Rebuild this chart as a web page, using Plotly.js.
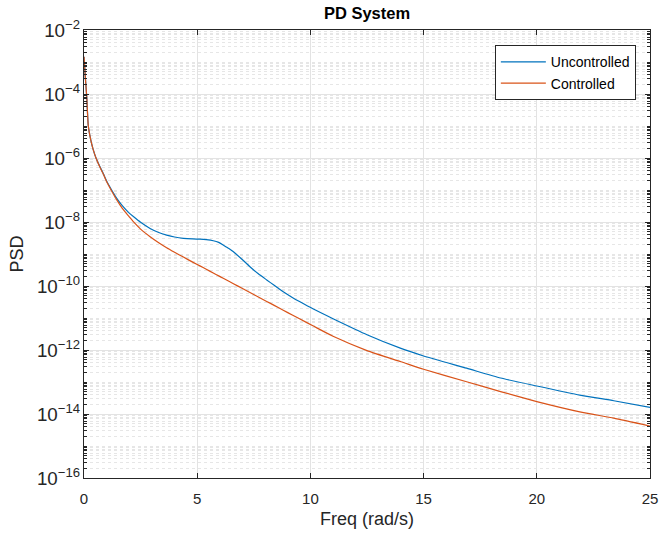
<!DOCTYPE html>
<html>
<head>
<meta charset="utf-8">
<script src="https://cdn.plot.ly/plotly-3.0.1.min.js"></script>
<style>
  html, body { margin: 0; padding: 0; background: #ffffff; }
  #chart { width: 662px; height: 536px; }
</style>
</head>
<body>
<div id="chart"></div>
<script>
// Frequency samples (rad/s)
const freq = [0, 0.06, 0.12, 0.19, 0.3, 0.4, 0.53, 0.7, 0.85, 1.0,
  1.22, 1.44, 1.7, 2.0, 2.18, 2.5, 2.92, 3.3, 3.65, 4.0,
  4.39, 4.8, 5.12, 5.4, 5.71, 5.95, 6.15, 6.4, 6.6, 7.0,
  7.33, 7.7, 8.07, 8.4, 8.8, 9.2, 9.54, 10.13, 11.0, 12.5,
  14.0, 15.0, 16.9, 18.4, 20.0, 21.9, 23.4, 25];

// PSD values, uncontrolled system
const psdUncontrolled = [1.45e-3, 3.2e-4, 8.3e-5, 1.0e-5, 3.6e-6, 1.9e-6, 1.0e-6, 5.4e-7, 3.3e-7, 1.9e-7,
  1.0e-7, 5.6e-8, 3.2e-8, 1.9e-8, 1.48e-8, 9.8e-9, 6.3e-9, 4.7e-9, 3.9e-9, 3.4e-9,
  3.1e-9, 2.95e-9, 2.9e-9, 2.8e-9, 2.6e-9, 2.3e-9, 1.9e-9, 1.48e-9, 1.17e-9, 6.6e-10,
  4.0e-10, 2.4e-10, 1.55e-10, 1.05e-10, 6.6e-11, 4.4e-11, 3.2e-11, 1.9e-11, 9.5e-12, 3.0e-12,
  1.12e-12, 6.5e-13, 2.7e-13, 1.33e-13, 7.5e-14, 3.9e-14, 2.6e-14, 1.62e-14];

// PSD values, controlled system
const psdControlled = [1.45e-3, 3.2e-4, 8.3e-5, 1.0e-5, 3.6e-6, 1.9e-6, 1.0e-6, 5.2e-7, 3.2e-7, 1.8e-7,
  9.3e-8, 5.0e-8, 2.63e-8, 1.45e-8, 1.02e-8, 6.0e-9, 3.48e-9, 2.26e-9, 1.58e-9, 1.14e-9,
  8.0e-10, 5.58e-10, 4.25e-10, 3.33e-10, 2.55e-10, 2.07e-10, 1.74e-10, 1.40e-10, 1.18e-10, 8.35e-11,
  6.27e-11, 4.53e-11, 3.30e-11, 2.48e-11, 1.75e-11, 1.24e-11, 9.3e-12, 5.6e-12, 2.68e-12, 9.6e-13,
  4.3e-13, 2.5e-13, 1.02e-13, 5.0e-14, 2.45e-14, 1.17e-14, 7.4e-15, 4.2e-15];

const seriesNames = ['Uncontrolled', 'Controlled'];
const xTicks = [0, 5, 10, 15, 20, 25];

const fontFamily = '"Liberation Sans", Arial, Helvetica, sans-serif';
const axisColor = '#262626';

const traces = [
  { x: freq, y: psdUncontrolled, name: seriesNames[0], type: 'scatter', mode: 'lines',
    line: { color: '#0072BD', width: 1.2, shape: 'spline', smoothing: 0.5 } },
  { x: freq, y: psdControlled, name: seriesNames[1], type: 'scatter', mode: 'lines',
    line: { color: '#D95319', width: 1.2, shape: 'spline', smoothing: 0.5 } }
];

const layout = {
  width: 662, height: 536,
  paper_bgcolor: '#ffffff', plot_bgcolor: '#ffffff',
  margin: { l: 84, r: 12, t: 30, b: 58 },
  font: { family: fontFamily, size: 15, color: axisColor },
  title: { text: '<b>PD System</b>', font: { size: 16.5, color: '#000000', family: fontFamily },
           x: 0.5, xref: 'paper', y: (536 - 13) / 536, yref: 'container', yanchor: 'middle' },
  showlegend: true,
  legend: { x: 0.975, y: 0.966, xanchor: 'right', yanchor: 'top',
            bgcolor: '#ffffff', bordercolor: axisColor, borderwidth: 1,
            font: { size: 14, color: '#000000', family: fontFamily },
            itemwidth: 45, tracegroupgap: 0 },
  xaxis: {
    range: [0, 25], tickvals: xTicks, ticktext: xTicks.map(String),
    showline: true, linecolor: axisColor, linewidth: 1, mirror: 'ticks',
    ticks: 'inside', ticklen: 5, tickcolor: axisColor,
    showgrid: true, gridcolor: '#e3e3e3', gridwidth: 1,
    zeroline: false, ticklabelstandoff: 7,
    tickfont: { size: 15, color: axisColor },
    title: { text: 'Freq (rad/s)', font: { size: 18, color: axisColor }, standoff: 6 }
  },
  yaxis: {
    type: 'log', range: [-16, -2], dtick: 2, tick0: 0,
    exponentformat: 'power', showexponent: 'all',
    showline: true, linecolor: axisColor, linewidth: 1, mirror: 'ticks',
    ticks: 'inside', ticklen: 5, tickcolor: axisColor,
    showgrid: true, gridcolor: '#e3e3e3', gridwidth: 1,
    zeroline: false,
    tickfont: { size: 15, color: axisColor },
    title: { text: 'PSD', font: { size: 18, color: axisColor }, standoff: 8 },
    minor: { dtick: 'D1', ticks: 'inside', ticklen: 3, tickcolor: axisColor,
             showgrid: true, gridcolor: '#e6e6e6', griddash: 'dot', gridwidth: 1 }
  }
};

Plotly.newPlot('chart', traces, layout, { staticPlot: true, displayModeBar: false });
</script>
</body>
</html>
